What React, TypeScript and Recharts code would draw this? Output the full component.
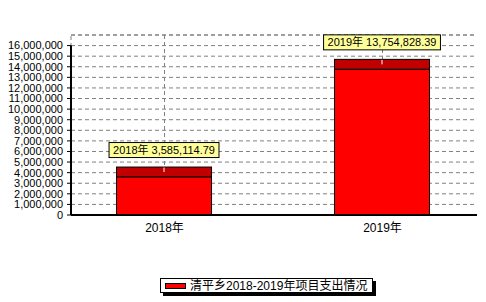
import React from 'react'
import {
  ComposedChart,
  Bar,
  XAxis,
  YAxis,
  CartesianGrid,
  ReferenceLine,
  LabelList,
} from 'recharts'

const categories = ['2018年', '2019年']
const spending = [3585114.79, 13754828.39]
const yTicks = [
  0, 1000000, 2000000, 3000000, 4000000, 5000000, 6000000, 7000000, 8000000,
  9000000, 10000000, 11000000, 12000000, 13000000, 14000000, 15000000, 16000000,
]
const legendLabel = '清平乡2018-2019年项目支出情况'

const data = categories.map((name, i) => ({ idx: i, name, value: spending[i] }))

const X_MIN = -0.429
const X_MAX = 1.4335
const Y_MAX = 17000000
const DEPTH = 10
const font = '"Liberation Sans", Arial, "Noto Sans CJK SC", sans-serif'

const fmtTick = (v: number) => v.toLocaleString('en-US')
const fmtValue = (v: number) =>
  v.toLocaleString('en-US', { minimumFractionDigits: 2, maximumFractionDigits: 2 })

let ctx: CanvasRenderingContext2D | null = null
function textWidth(s: string, size: number) {
  if (!ctx) ctx = document.createElement('canvas').getContext('2d')
  if (!ctx) return s.length * size * 0.55
  ctx.font = `${size}px ${font}`
  return ctx.measureText(s).width
}

function Bar3D(props: any) {
  const { x, y, width, height } = props
  if (width == null || height == null) return null
  const cx = x + width / 2
  return (
    <g>
      <rect x={x} y={y - DEPTH} width={width} height={DEPTH} fill="#C00000" stroke="#000" strokeWidth={1} />
      <rect x={x} y={y} width={width} height={height} fill="#FF0000" stroke="#000" strokeWidth={1} />
      <line x1={cx} x2={cx} y1={y - DEPTH + 0.5} y2={y - DEPTH + 5} stroke="#fff" strokeWidth={1} />
    </g>
  )
}

function ValueBox(props: any) {
  const { x, y, width, index } = props
  const text = `${categories[index]} ${fmtValue(spending[index])}`
  const w = textWidth(text, 11) + 8
  const h = 15
  const cx = x + width / 2
  const bottom = y - DEPTH - 9.5
  return (
    <g>
      <rect x={cx - w / 2} y={bottom - h} width={w} height={h} fill="#FFFF99" stroke="#000" strokeWidth={1} />
      <text x={cx} y={bottom - h / 2 + 4} textAnchor="middle" fontSize={11} fontFamily={font} fill="#000">
        {text}
      </text>
    </g>
  )
}

// vertical grid only at the category centres, like the original
const verticalGrid = ({ offset }: any) =>
  [0, 1].map((v) => offset.left + (offset.width * (v - X_MIN)) / (X_MAX - X_MIN))

export default function App() {
  return (
    <div style={{ position: 'absolute', left: 0, top: 0, width: 486, height: 302, background: '#fff' }}>
      <ComposedChart
        width={486}
        height={302}
        data={data}
        margin={{ top: 35, right: 9, bottom: 57, left: 0 }}
      >
        <CartesianGrid
          stroke="#808080"
          strokeDasharray="4 3"
          verticalCoordinatesGenerator={verticalGrid}
        />
        <XAxis
          type="number"
          dataKey="idx"
          domain={[X_MIN, X_MAX]}
          ticks={[0, 1]}
          tickFormatter={(i: number) => categories[i]}
          allowDataOverflow
          height={30}
          tickLine={false}
          axisLine={{ stroke: '#000', strokeWidth: 2 }}
          tick={{ fill: '#000', fontSize: 12, fontFamily: font }}
        />
        <YAxis
          type="number"
          domain={[0, Y_MAX]}
          ticks={yTicks}
          interval={0}
          width={71}
          tickFormatter={fmtTick}
          axisLine={false}
          tickSize={4}
          tickMargin={4}
          tickLine={{ stroke: '#000' }}
          tick={{ fill: '#000', fontSize: 11, fontFamily: font }}
        />
        <ReferenceLine y={Y_MAX} stroke="#808080" strokeDasharray="4 3" />
        <ReferenceLine x={X_MIN} stroke="#808080" strokeDasharray="4 3" />
        <ReferenceLine
          segment={[{ x: X_MIN, y: 0 }, { x: X_MIN, y: 16000000 }]}
          stroke="#000"
          strokeWidth={2}
        />
        <Bar dataKey="value" barSize={95} shape={<Bar3D />} isAnimationActive={false}>
          <LabelList dataKey="value" content={<ValueBox />} />
        </Bar>
      </ComposedChart>
      <div
        style={{
          position: 'absolute',
          left: 160,
          top: 278,
          width: 211,
          height: 13,
          border: '1px solid #000',
          boxShadow: '3px 3px 0 #000',
          background: '#fff',
          display: 'flex',
          alignItems: 'center',
          fontFamily: font,
          fontSize: 12,
          lineHeight: '12px',
          color: '#000',
        }}
      >
        <span
          style={{
            display: 'inline-block',
            width: 19,
            height: 4,
            marginLeft: 4,
            marginRight: 4,
            background: '#FF0000',
            border: '1px solid #000',
          }}
        />
        <span style={{ whiteSpace: 'nowrap' }}>{legendLabel}</span>
      </div>
    </div>
  )
}
